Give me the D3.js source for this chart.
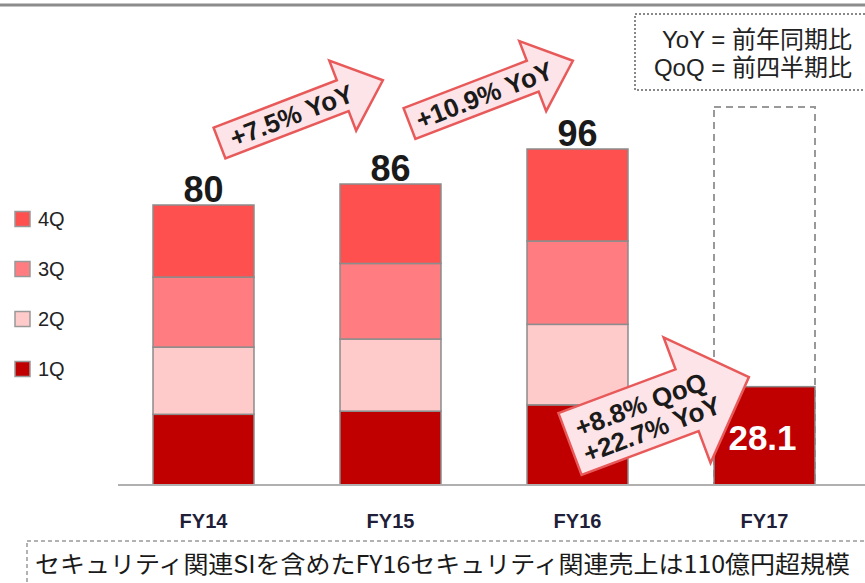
<!DOCTYPE html>
<html>
<head>
<meta charset="utf-8">
<script src="https://cdn.jsdelivr.net/npm/d3@7"></script>
<style>
  body { margin: 0; background: #fff; }
  svg { display: block; font-family: "Liberation Sans", Arial, "Noto Sans CJK JP", sans-serif; }
</style>
</head>
<body>
<script>
var w = 865;
var h = 583;

// Data (億円)
var years = ["FY14", "FY15", "FY16", "FY17"];
var quarters = ["1Q", "2Q", "3Q", "4Q"];
var q1 = [20.2, 21.1, 22.9, 28.1];
var q2 = [19.2, 20.6, 23.0, null];
var q3 = [20.0, 21.6, 23.8, null];
var q4 = [20.6, 22.7, 26.3, null];
var fy17Outline = 108;
var colors = ["#c00000", "#ffcaca", "#ff7c80", "#ff5050"];

var growthLabels = [["+7.5% YoY"], ["+10.9% YoY"], ["+8.8% QoQ", "+22.7% YoY"]];

// Build a table for d3.stack
var table = years.map(function(y, i) {
    return { year: y, "1Q": q1[i], "2Q": q2[i] || 0, "3Q": q3[i] || 0, "4Q": q4[i] || 0 };
});

var svg = d3.select("body")
    .append("svg")
    .attr("width", w)
    .attr("height", h);

// Top rule
svg.append("line")
    .attr("x1", 0).attr("x2", w)
    .attr("y1", 5).attr("y2", 5)
    .attr("stroke", "#8c8c8c")
    .attr("stroke-width", 3);

var x = d3.scaleBand()
    .domain(years)
    .range([110, 858])
    .paddingInner(0.46)
    .paddingOuter(0.23);

var y = d3.scaleLinear()
    .domain([0, 108])
    .range([485, 107]);

var color = d3.scaleOrdinal().domain(quarters).range(colors);

// FY17 dashed outline
svg.append("rect")
    .attr("x", x("FY17"))
    .attr("y", y(fy17Outline))
    .attr("width", x.bandwidth())
    .attr("height", y(0) - y(fy17Outline))
    .attr("fill", "none")
    .attr("stroke", "#999")
    .attr("stroke-width", 2)
    .attr("stroke-dasharray", "7,5");

// Stacked bars
var series = d3.stack().keys(quarters)(table);

var groups = svg.selectAll("g.layer")
    .data(series)
    .enter()
    .append("g")
    .attr("class", "layer")
    .attr("fill", function(d) { return color(d.key); });

groups.selectAll("rect")
    .data(function(d) { return d.filter(function(s) { return s[1] - s[0] > 0; }); })
    .enter()
    .append("rect")
    .attr("x", function(d) { return x(d.data.year); })
    .attr("y", function(d) { return y(d[1]); })
    .attr("width", x.bandwidth())
    .attr("height", function(d) { return y(d[0]) - y(d[1]); })
    .attr("stroke", "#8c8c8c")
    .attr("stroke-width", 1.5);

// Baseline
svg.append("line")
    .attr("x1", 118).attr("x2", w)
    .attr("y1", y(0)).attr("y2", y(0))
    .attr("stroke", "#b0b0b0")
    .attr("stroke-width", 2);

// Totals
svg.selectAll("text.total")
    .data(table.slice(0, 3))
    .enter()
    .append("text")
    .attr("class", "total")
    .attr("x", function(d) { return x(d.year) + x.bandwidth() / 2; })
    .attr("y", function(d) { return y(d["1Q"] + d["2Q"] + d["3Q"] + d["4Q"]) - 3; })
    .attr("text-anchor", "middle")
    .attr("font-size", 36)
    .attr("font-weight", "bold")
    .attr("fill", "#1a1a1a")
    .text(function(d) { return d3.format(".0f")(d["1Q"] + d["2Q"] + d["3Q"] + d["4Q"]); });

// FY17 1Q value
svg.append("text")
    .attr("x", x("FY17") + x.bandwidth() / 2 - 2)
    .attr("y", 450)
    .attr("text-anchor", "middle")
    .attr("font-size", 35)
    .attr("font-weight", "bold")
    .attr("fill", "#fff")
    .text(d3.format(".1f")(q1[3]));

// Category labels
svg.selectAll("text.cat")
    .data(years)
    .enter()
    .append("text")
    .attr("class", "cat")
    .attr("x", function(d) { return x(d) + x.bandwidth() / 2; })
    .attr("y", 528)
    .attr("text-anchor", "middle")
    .attr("font-size", 20)
    .attr("font-weight", "bold")
    .attr("fill", "#1f1f3a")
    .text(function(d) { return d; });

// Legend on the left
var legend = svg.selectAll(".legend")
    .data(quarters.slice().reverse())
    .enter().append("g")
    .attr("class", "legend")
    .attr("transform", function(d, i) {
        return "translate(15," + (211.5 + i * 50) + ")";
    });

legend.append("rect")
    .attr("width", 15)
    .attr("height", 15)
    .attr("fill", function(d) { return color(d); })
    .attr("stroke", "#999")
    .attr("stroke-width", 1.5);

legend.append("text")
    .attr("x", 23)
    .attr("y", 7.5)
    .attr("dy", ".35em")
    .attr("font-size", 20)
    .attr("fill", "#222")
    .text(function(d) { return d; });

// Growth arrows
function arrowPath(L, sh, hl, hh) {
    return "M0," + (-sh / 2) + "L" + L + "," + (-sh / 2) + "L" + L + "," + (-hh) +
        "L" + (L + hl) + ",0L" + L + "," + hh + "L" + L + "," + (sh / 2) +
        "L0," + (sh / 2) + "Z";
}

var arrows = [
    { cx: 219.5, cy: 143, angle: -21, L: 132, sh: 33, hl: 43, hh: 37.5, tx: 77, lines: growthLabels[0] },
    { cx: 409.5, cy: 123.5, angle: -21, L: 132, sh: 33, hl: 43, hh: 37.5, tx: 80, lines: growthLabels[1] },
    { cx: 570, cy: 444, angle: -20.5, L: 125, sh: 66, hl: 66, hh: 67, tx: 80, lines: growthLabels[2] }
];

var arrowG = svg.selectAll("g.arrow")
    .data(arrows)
    .enter().append("g")
    .attr("class", "arrow")
    .attr("transform", function(d) {
        return "translate(" + d.cx + "," + d.cy + ") rotate(" + d.angle + ")";
    });

arrowG.append("path")
    .attr("d", function(d) { return arrowPath(d.L, d.sh, d.hl, d.hh); })
    .attr("fill", "#fde4e8")
    .attr("stroke", "#e85a5a")
    .attr("stroke-width", 2.5)
    .attr("stroke-linejoin", "miter");

arrowG.each(function(d) {
    var g = d3.select(this);
    var n = d.lines.length;
    d.lines.forEach(function(t, i) {
        g.append("text")
            .attr("x", d.tx + (n > 1 ? i * 2 : 0))
            .attr("y", (i - (n - 1) / 2) * 27 + (n > 1 ? 1 : 0))
            .attr("dy", ".36em")
            .attr("text-anchor", "middle")
            .attr("font-size", 26)
            .attr("font-weight", "bold")
            .attr("fill", "#1a1a1a")
            .text(t);
    });
});

// Definition box (top right)
svg.append("rect")
    .attr("x", 635).attr("y", 14)
    .attr("width", 250).attr("height", 76)
    .attr("fill", "none")
    .attr("stroke", "#888")
    .attr("stroke-width", 2)
    .attr("stroke-dasharray", "2,2");

svg.append("text")
    .attr("x", 852).attr("y", 48)
    .attr("text-anchor", "end")
    .attr("font-size", 24)
    .attr("fill", "#222")
    .text("YoY = 前年同期比");

svg.append("text")
    .attr("x", 852).attr("y", 76)
    .attr("text-anchor", "end")
    .attr("font-size", 24)
    .attr("fill", "#222")
    .text("QoQ = 前四半期比");

// Bottom note box
svg.append("rect")
    .attr("x", 27).attr("y", 541)
    .attr("width", 860).attr("height", 60)
    .attr("fill", "none")
    .attr("stroke", "#999")
    .attr("stroke-width", 1.5)
    .attr("stroke-dasharray", "4,3");

svg.append("text")
    .attr("x", 35).attr("y", 573)
    .attr("font-family", "'Noto Sans CJK JP', sans-serif")
    .attr("font-size", 24)
    .attr("fill", "#1a1a1a")
    .attr("textLength", 815)
    .attr("lengthAdjust", "spacingAndGlyphs")
    .text("セキュリティ関連SIを含めたFY16セキュリティ関連売上は110億円超規模");
</script>
</body>
</html>
